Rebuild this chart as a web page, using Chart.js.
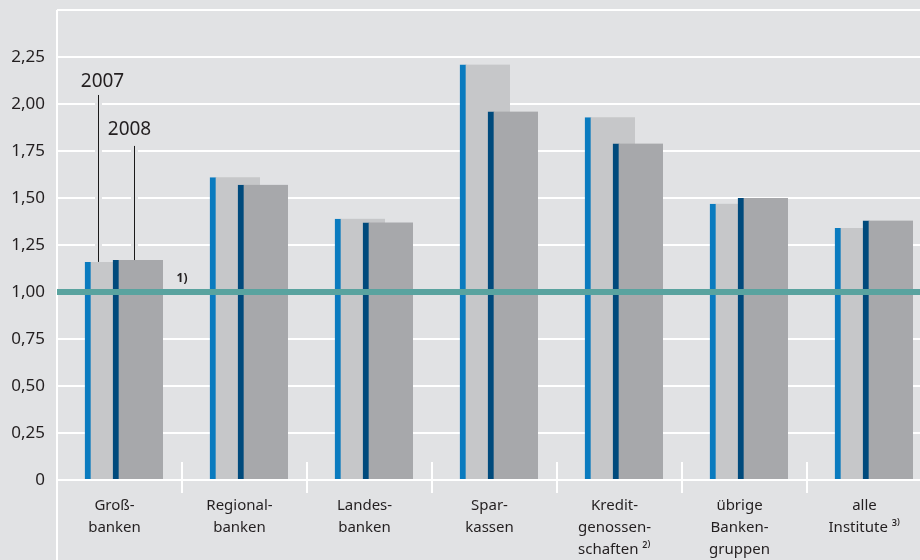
<!DOCTYPE html>
<html>
<head>
<meta charset="utf-8">
<script src="https://cdn.jsdelivr.net/npm/chart.js@4/dist/chart.umd.min.js"></script>
<style>
  html, body { margin: 0; padding: 0; background: #e1e2e4; overflow: hidden; }
  #wrap { width: 920px; height: 560px; position: relative; }
</style>
</head>
<body>
<div id="wrap"><canvas id="chart"></canvas></div>
<script>
// ── Data ─────────────────────────────────────────────────────────────────────
const categories = [
  ['Groß-', 'banken'],
  ['Regional-', 'banken'],
  ['Landes-', 'banken'],
  ['Spar-', 'kassen'],
  ['Kredit-', 'genossen-', 'schaften ²⁾'],
  ['übrige', 'Banken-', 'gruppen'],
  ['alle', 'Institute ³⁾'],
];
const values2007 = [1.16, 1.61, 1.39, 2.21, 1.93, 1.47, 1.34];
const values2008 = [1.17, 1.57, 1.37, 1.96, 1.79, 1.50, 1.38];
const seriesNames = ['2007', '2008'];
const yTickValues = [0, 0.25, 0.5, 0.75, 1.0, 1.25, 1.5, 1.75, 2.0, 2.25, 2.5];
const yTickLabels = ['0', '0,25', '0,50', '0,75', '1,00', '1,25', '1,50', '1,75', '2,00', '2,25', ''];
const refLevel = 1.0;
const footnote1 = '1)';

// ── Look ─────────────────────────────────────────────────────────────────────
const BG = '#e1e2e4';
const FONT = "'Noto Sans', sans-serif";
const TXT = '#231f20';
const SLOT = 125;          // px per category
const OFF07 = -9.5 / SLOT; // bar centre offsets inside a category
const OFF08 = 18.5 / SLOT;

const toPoints = (vals, off) => vals.map((v, i) => ({x: i + off, y: v}));

// ── Overlay plugin: axis lines, separators, 1.00 line, annotations ──────────
const overlay = {
  id: 'overlay',
  beforeDatasetsDraw(chart) {
    const {ctx, chartArea: a, scales: {x}} = chart;
    ctx.save();
    ctx.strokeStyle = '#ffffff';
    ctx.lineWidth = 2;
    // y axis line running to the bottom
    ctx.beginPath(); ctx.moveTo(a.left, a.top); ctx.lineTo(a.left, chart.height); ctx.stroke();
    // category separators
    for (let i = 0; i < categories.length - 1; i++) {
      const px = Math.round(x.getPixelForValue(i + 0.5));
      ctx.beginPath(); ctx.moveTo(px, a.bottom - 18); ctx.lineTo(px, a.bottom + 13); ctx.stroke();
    }
    ctx.restore();
  },
  afterDatasetsDraw(chart) {
    const {ctx, chartArea: a, scales: {x, y}} = chart;
    ctx.save();
    // reference line at 1.00
    const ry = y.getPixelForValue(refLevel);
    ctx.strokeStyle = '#59a39f';
    ctx.lineWidth = 6;
    ctx.beginPath(); ctx.moveTo(a.left, ry); ctx.lineTo(a.right, ry); ctx.stroke();

    // series annotations above first group
    const b07 = chart.getDatasetMeta(0).data[0];
    const b08 = chart.getDatasetMeta(1).data[0];
    const notes = [
      {bar: b07, dx: -12, top: 2.048, text: seriesNames[0], tx: -7.5, ty: 2.117},
      {bar: b08, dx: -4, top: 1.777, text: seriesNames[1], tx: -8.5, ty: 1.862},
    ];
    notes.forEach(n => {
      const lx = Math.round(n.bar.x + n.dx) + 0.5;
      const t = y.getPixelForValue(n.top);
      ctx.strokeStyle = BG; ctx.lineWidth = 7;
      ctx.beginPath(); ctx.moveTo(lx, t); ctx.lineTo(lx, n.bar.y - 4); ctx.stroke();
      ctx.strokeStyle = '#1a1a1a'; ctx.lineWidth = 1;
      ctx.beginPath(); ctx.moveTo(lx, t); ctx.lineTo(lx, n.bar.y); ctx.stroke();
      ctx.fillStyle = TXT;
      ctx.font = `19px ${FONT}`;
      ctx.textAlign = 'center'; ctx.textBaseline = 'middle';
      ctx.fillText(n.text, n.bar.x + n.tx, y.getPixelForValue(n.ty));
    });

    // footnote 1)
    ctx.fillStyle = TXT;
    ctx.font = `bold 12px ${FONT}`;
    ctx.textAlign = 'center'; ctx.textBaseline = 'middle';
    ctx.fillText(footnote1, x.getPixelForValue(0.5), y.getPixelForValue(1.074));
    ctx.restore();
  }
};

// ── Chart ────────────────────────────────────────────────────────────────────
new Chart(document.getElementById('chart'), {
  type: 'bar',
  data: {
    datasets: [
      {
        label: seriesNames[0], data: toPoints(values2007, OFF07), order: 1,
        backgroundColor: '#c6c7c9', borderColor: '#0a7bbf',
        borderWidth: {left: 6, right: 0, top: 0, bottom: 0},
      },
      {
        label: seriesNames[1], data: toPoints(values2008, OFF08), order: 0,
        backgroundColor: '#a7a8ab', borderColor: '#004a7c',
        borderWidth: {left: 6, right: 0, top: 0, bottom: 0},
      },
    ],
  },
  options: {
    animation: false,
    responsive: true,
    maintainAspectRatio: false,
    grouped: false,
    barThickness: 50,
    layout: { padding: { top: 10, right: 0, left: 0, bottom: 0 } },
    plugins: { legend: { display: false }, tooltip: { enabled: false } },
    scales: {
      x: {
        type: 'linear',
        offset: false,
        min: -0.5,
        max: -0.5 + 863 / SLOT,
        afterFit: s => { s.height = 80; s.paddingLeft = 0; s.paddingRight = 0; },
        afterBuildTicks: s => { s.ticks = categories.map((_, i) => ({value: i})); },
        grid: { display: false },
        border: { display: false },
        ticks: {
          autoSkip: false, maxRotation: 0, padding: 7, labelOffset: -5,
          color: TXT, font: { family: FONT, size: 15, lineHeight: 1.45 },
          callback: v => categories[v],
        },
      },
      y: {
        min: 0, max: 2.5,
        afterFit: s => { s.width = 57; s.paddingTop = 0; s.paddingBottom = 0; },
        afterBuildTicks: s => { s.ticks = yTickValues.map(v => ({value: v})); },
        grid: { color: '#ffffff', lineWidth: 2, drawTicks: false },
        border: { display: false },
        ticks: {
          padding: 12, color: TXT, font: { family: FONT, size: 17 },
          callback: (v, i) => yTickLabels[i],
        },
      },
    },
  },
  plugins: [overlay],
});
</script>
</body>
</html>
